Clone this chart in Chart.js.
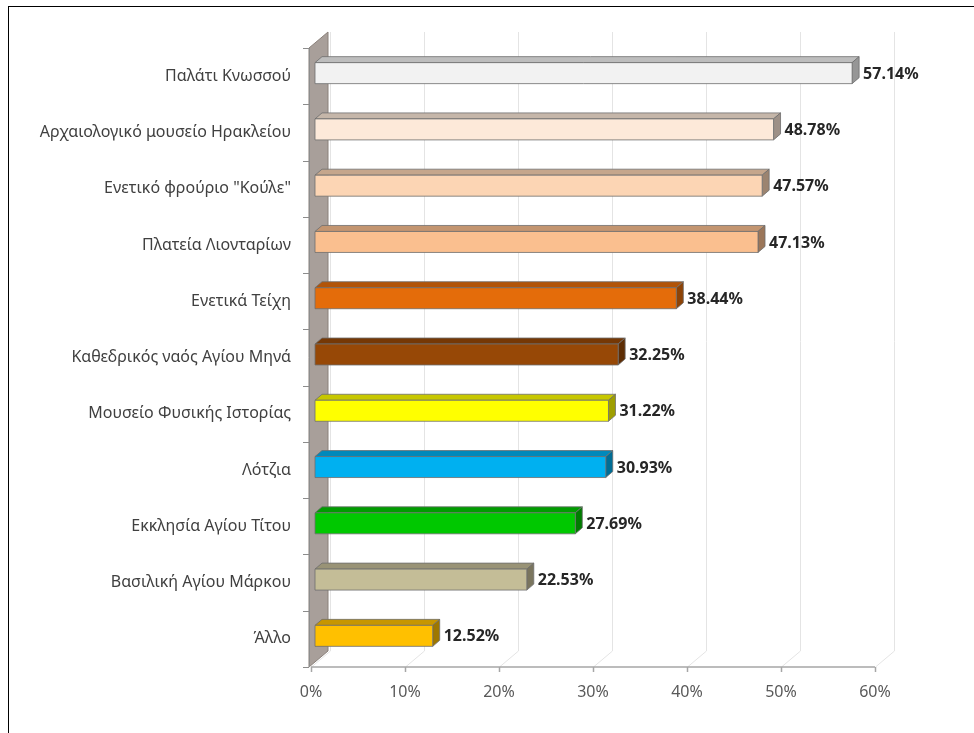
<!DOCTYPE html>
<html>
<head>
<meta charset="utf-8">
<script src="https://cdn.jsdelivr.net/npm/chart.js@4.4.0/dist/chart.umd.min.js"></script>
<style>
  html, body { margin: 0; padding: 0; background: #fff; overflow: hidden; }
  #wrap { position: relative; width: 974px; height: 733px; overflow: hidden; }
  #frame { position: absolute; left: 8px; top: 6px; width: 1000px; height: 1000px; border: 1px solid #000; }
  #chart { position: absolute; left: 0; top: 0; }
</style>
</head>
<body>
<div id="wrap">
  <div id="frame"></div>
  <canvas id="chart" width="974" height="733"></canvas>
</div>
<script>
const places = ['Παλάτι Κνωσσού', 'Αρχαιολογικό μουσείο Ηρακλείου', 'Ενετικό φρούριο "Κούλε"', 'Πλατεία Λιονταρίων',
  'Ενετικά Τείχη', 'Καθεδρικός ναός Αγίου Μηνά', 'Μουσείο Φυσικής Ιστορίας', 'Λότζια',
  'Εκκλησία Αγίου Τίτου', 'Βασιλική Αγίου Μάρκου', 'Άλλο'];
const shares = [57.14, 48.78, 47.57, 47.13, 38.44, 32.25, 31.22, 30.93, 27.69, 22.53, 12.52];
const barColors = ['#f2f2f2', '#fde9d9', '#fcd5b4', '#fabf8f', '#e46c0a', '#974806',
  '#ffff00', '#00b0f0', '#00c800', '#c4bd97', '#ffc000'];
const tickValues = [0, 10, 20, 30, 40, 50, 60];

// 3d look: depth of the floor / walls and of each bar
const DX = 19, DY = -16;
const OFF = {x: 4, y: -3};
const BD = {x: 7, y: -6};

function shade(hex, k) {
  const n = parseInt(hex.slice(1), 16);
  const r = Math.round(((n >> 16) & 255) * k);
  const g = Math.round(((n >> 8) & 255) * k);
  const b = Math.round((n & 255) * k);
  return `rgb(${r},${g},${b})`;
}

function poly(ctx, pts, fill, stroke) {
  ctx.beginPath();
  ctx.moveTo(pts[0][0], pts[0][1]);
  for (let i = 1; i < pts.length; i++) ctx.lineTo(pts[i][0], pts[i][1]);
  ctx.closePath();
  ctx.fillStyle = fill;
  ctx.fill();
  if (stroke) {
    ctx.strokeStyle = stroke;
    ctx.lineWidth = 1;
    ctx.stroke();
  }
}

const depth3d = {
  id: 'depth3d',
  beforeDraw(chart) {
    const {ctx, scales: {x, y}} = chart;
    const base = y.bottom, top = y.top;
    ctx.save();
    // floor and back wall gridlines
    ctx.strokeStyle = '#e4e4e4';
    ctx.lineWidth = 1;
    tickValues.forEach(v => {
      const px = Math.round(x.getPixelForValue(v)) + 0.5;
      ctx.beginPath();
      ctx.moveTo(px, base);
      ctx.lineTo(px + DX, base + DY);
      ctx.lineTo(px + DX, top + DY);
      ctx.stroke();
    });
    // side wall
    const wx = x.left - 2;
    poly(ctx, [[wx, base], [wx, top], [wx + DX, top + DY], [wx + DX, base + DY]], '#a89f9a', '#8a807a');
    // category axis ticks
    ctx.strokeStyle = '#8c8c8c';
    ctx.beginPath();
    ctx.moveTo(wx + 0.5, top);
    ctx.lineTo(wx + 0.5, base);
    for (let i = 0; i <= places.length; i++) {
      const py = Math.round(top + (base - top) * i / places.length) + 0.5;
      ctx.moveTo(wx - 6, py);
      ctx.lineTo(wx, py);
    }
    ctx.stroke();
    // value axis line and ticks
    ctx.strokeStyle = '#a6a6a6';
    ctx.lineWidth = 1.5;
    ctx.beginPath();
    ctx.moveTo(x.left, base);
    ctx.lineTo(x.right, base);
    tickValues.forEach(v => {
      const px = Math.round(x.getPixelForValue(v)) + 0.5;
      ctx.moveTo(px, base);
      ctx.lineTo(px, base + 5);
    });
    ctx.stroke();
    ctx.restore();
  },
  beforeDatasetsDraw(chart) {
    const ctx = chart.ctx;
    const bars = chart.getDatasetMeta(0).data;
    ctx.save();
    bars.forEach((bar, i) => {
      const c = barColors[i];
      const x0 = bar.base + OFF.x, x1 = bar.x + OFF.x;
      const y0 = bar.y - bar.height / 2 + OFF.y, y1 = bar.y + bar.height / 2 + OFF.y;
      const edge = 'rgba(110,110,110,0.8)';
      poly(ctx, [[x0, y0], [x0 + BD.x, y0 + BD.y], [x1 + BD.x, y0 + BD.y], [x1, y0]], shade(c, 0.78), edge);
      poly(ctx, [[x1, y0], [x1 + BD.x, y0 + BD.y], [x1 + BD.x, y1 + BD.y], [x1, y1]], shade(c, 0.62), edge);
      poly(ctx, [[x0, y0], [x1, y0], [x1, y1], [x0, y1]], c, edge);
      // value label
      ctx.fillStyle = '#262626';
      ctx.font = "bold 16px 'Noto Sans', sans-serif";
      ctx.textBaseline = 'middle';
      ctx.textAlign = 'left';
      ctx.fillText(shares[i].toFixed(2) + '%', x1 + BD.x + 4, bar.y + OFF.y + 1);
    });
    ctx.restore();
    return false;
  }
};

const chart = document.querySelector('#chart').getContext('2d');

new Chart(chart, {
  type: 'bar',
  data: {
    labels: places,
    datasets: [{
      data: shares,
      backgroundColor: barColors,
      barPercentage: 0.373,
      categoryPercentage: 1
    }]
  },
  options: {
    indexAxis: 'y',
    responsive: false,
    animation: false,
    layout: {padding: {top: 48, right: 99, bottom: 0, left: 0}},
    plugins: {legend: {display: false}, tooltip: {enabled: false}},
    scales: {
      x: {
        min: 0,
        max: 60,
        afterFit: s => { s.height = 66; },
        afterBuildTicks: s => { s.ticks = tickValues.map(v => ({value: v})); },
        grid: {display: false, drawTicks: false},
        border: {display: false},
        ticks: {
          padding: 16,
          color: '#595959',
          font: {family: "'Noto Sans', sans-serif", size: 16},
          callback: v => v + '%'
        }
      },
      y: {
        afterFit: s => { s.width = 311; },
        grid: {display: false, drawTicks: false},
        border: {display: false},
        ticks: {
          padding: 20,
          color: '#404040',
          font: {family: "'Noto Sans', sans-serif", size: 16}
        }
      }
    }
  },
  plugins: [depth3d]
});
</script>
</body>
</html>
